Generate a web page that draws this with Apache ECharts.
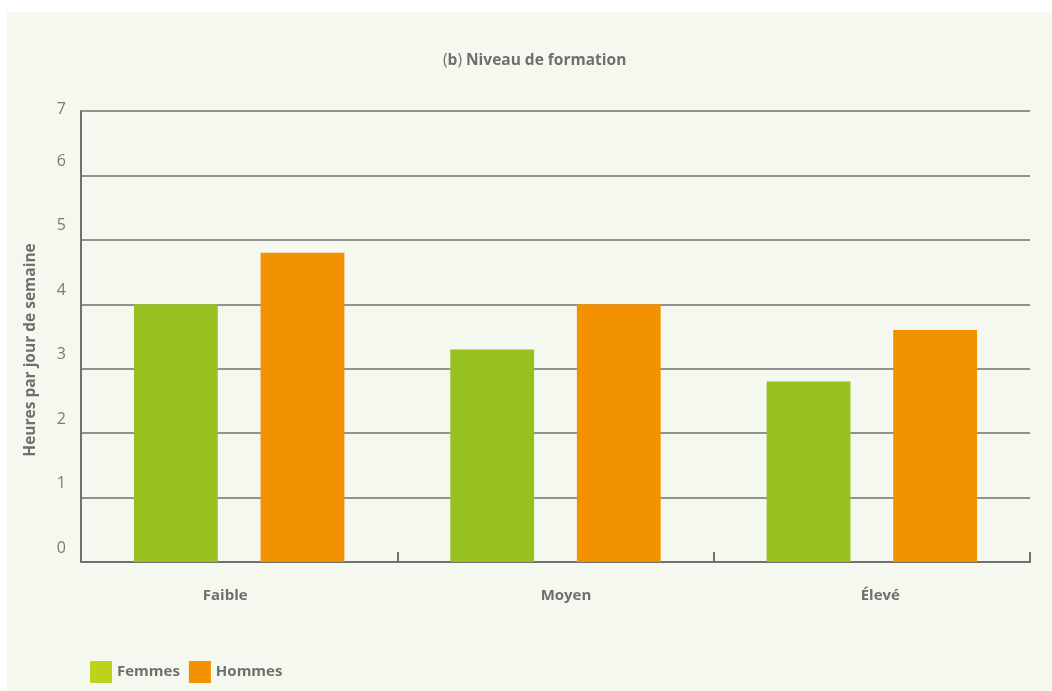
<!DOCTYPE html>
<html>
<head>
<meta charset="utf-8">
<script src="https://cdn.jsdelivr.net/npm/echarts@6/dist/echarts.min.js"></script>
<style>
  html, body { margin: 0; padding: 0; background: #ffffff; }
  #panel { position: absolute; left: 7px; top: 12px; width: 1045px; height: 679px; background: #f5f8ee; }
  #chart { width: 100%; height: 100%; }
</style>
</head>
<body>
<div id="panel"><div id="chart"></div></div>
<script>
// Hours per weekday by education level
const categories = ['Faible', 'Moyen', 'Élevé'];
const femmes = [4.0, 3.3, 2.8];
const hommes = [4.8, 4.0, 3.6];
const yTicks = [0, 1, 2, 3, 4, 5, 6, 7];

const textColor = '#6f6f6f';
const lineColor = '#707070';
const fontFamily = '"Open Sans", "DejaVu Sans", sans-serif';

// small horizontal nudges of the category labels
const catLabelPad = [[0, 28, 0, 0], [0, 0, 0, 21], [0, 0, 0, 17]];

const catRich = {};
catLabelPad.forEach(function (p, i) {
  catRich['c' + i] = { padding: p, color: textColor, fontSize: 15, fontWeight: 'bold', fontFamily: fontFamily };
});

const chart = echarts.init(document.getElementById('chart'));
chart.setOption({
  backgroundColor: 'transparent',
  textStyle: { fontFamily: fontFamily },
  title: {
    text: '{p|(}{b|b}{p|)}{b| Niveau de formation}',
    left: 431,
    top: 36,
    textStyle: {
      rich: {
        p: { fontSize: 15.5, fontWeight: 'normal', color: textColor, fontFamily: fontFamily },
        b: { fontSize: 15.5, fontWeight: 'bold', color: textColor, fontFamily: fontFamily }
      }
    }
  },
  legend: {
    left: 78,
    bottom: 3,
    itemWidth: 22,
    itemHeight: 22,
    itemGap: 9,
    icon: 'rect',
    textStyle: { color: textColor, fontSize: 15, fontWeight: 'bold', padding: [15, 0, 0, 0] },
    data: [
      { name: 'Femmes', itemStyle: { color: '#bdd11d' } },
      { name: 'Hommes', itemStyle: { color: '#f39200' } }
    ]
  },
  grid: { left: 74, top: 99, right: 22, bottom: 129 },
  xAxis: {
    type: 'category',
    data: categories,
    axisLine: { show: true, lineStyle: { color: lineColor, width: 2 } },
    axisTick: { show: true, inside: true, length: 10, lineStyle: { color: lineColor, width: 2 } },
    axisLabel: {
      margin: 26,
      formatter: function (value, index) { return '{c' + index + '|' + value + '}'; },
      rich: catRich
    }
  },
  yAxis: {
    type: 'value',
    min: yTicks[0],
    max: yTicks[yTicks.length - 1],
    interval: 1,
    name: 'Heures par jour de semaine',
    nameLocation: 'middle',
    nameGap: 42,
    nameTextStyle: { color: textColor, fontSize: 15.5, fontWeight: 'bold', padding: [0, 27, 0, 0] },
    axisLine: { show: true, lineStyle: { color: lineColor, width: 2 } },
    axisTick: { show: false },
    axisLabel: {
      margin: 15,
      formatter: function (value) {
        return (value === yTicks[yTicks.length - 1] ? '{t|' : '{n|') + value + '}';
      },
      rich: {
        n: { color: '#7a7a7a', fontSize: 16, fontFamily: fontFamily, padding: [0, 0, 28, 0] },
        t: { color: '#7a7a7a', fontSize: 16, fontFamily: fontFamily, padding: [0, 0, 4, 0] }
      }
    },
    splitLine: { show: true, lineStyle: { color: lineColor, width: 1.5 } }
  },
  series: [
    {
      name: 'Femmes',
      type: 'bar',
      data: femmes,
      barWidth: '26.5%',
      barGap: '51%',
      itemStyle: { color: '#96c11f' }
    },
    {
      name: 'Hommes',
      type: 'bar',
      data: hommes,
      barWidth: '26.5%',
      itemStyle: { color: '#f39200' }
    }
  ]
});
</script>
</body>
</html>
